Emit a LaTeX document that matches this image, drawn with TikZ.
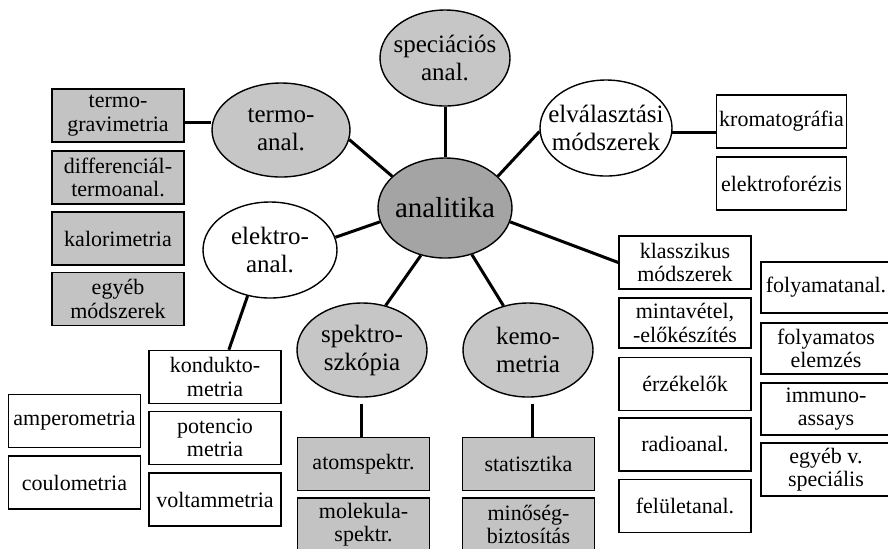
\documentclass[tikz,border=0pt]{standalone}
\usepackage{fontspec}
\setmainfont{Liberation Serif}
\usetikzlibrary{shapes.geometric}
\definecolor{gdark}{HTML}{A4A4A4}
\definecolor{glight}{HTML}{C6C6C6}
\definecolor{gbox}{HTML}{C3C3C3}
\tikzset{
  ell/.style={ellipse, draw=black, line width=0.7pt, inner sep=0pt},
  ellt/.style={align=center, font=\fontsize{12.5}{14}\selectfont},
  bx/.style={rectangle, draw=black, line width=0.75pt, inner sep=0pt, align=center,
    minimum width=66pt, minimum height=26.5pt, font=\fontsize{11}{11.8}\selectfont},
  gbx/.style={bx, fill=gbox},
  wide/.style={minimum width=65pt},
  conn/.style={line width=1.5pt}
}
\begin{document}
\begin{tikzpicture}[x=0.5pt, y=-0.5pt]
\clip (0,0) rectangle (888,548);
\fill[white] (0,0) rectangle (888,548);
% ellipses
\node[ell, fill=gdark, minimum width=67pt, minimum height=50pt] (ana) at (445,208) {};
\node[font=\fontsize{14.5}{16}\selectfont] at (ana) {analitika};
\node[ell, fill=glight, minimum width=65pt, minimum height=48pt] (spec) at (445,58) {};
\node[ellt] at (spec) {speciációs\\anal.};
\node[ell, fill=glight, minimum width=69pt, minimum height=47pt] (termo) at (281,130) {};
\node[ellt] at (termo) {termo-\\anal.};
\node[ell, fill=white, minimum width=66pt, minimum height=48pt] (elv) at (606,128) {};
\node[ellt] at (elv) {elválasztási\\módszerek};
\node[ell, fill=white, minimum width=67pt, minimum height=48pt] (elek) at (270,250) {};
\node[ellt] at (elek) {elektro-\\anal.};
\node[ell, fill=glight, minimum width=65pt, minimum height=47pt] (spek) at (362,350) {};
\node[ellt] at (spek) {spektro-\\szkópia};
\node[ell, fill=glight, minimum width=65pt, minimum height=47pt] (kemo) at (528,350) {};
\node[ellt] at (kemo) {kemo-\\metria};
% left gray boxes
\node[gbx] (tg) at (118,115.5) {termo-\\gravimetria};
\node[gbx] (dta) at (118,177.5) {differenciál-\\termoanal.};
\node[gbx] (kal) at (118,238.5) {kalorimetria};
\node[gbx] (egy) at (118,299) {egyéb\\módszerek};
% right top boxes
\node[bx, wide] (krom) at (781.5,121.5) {kromatográfia};
\node[bx, wide] (efor) at (781.5,183.5) {elektroforézis};
% right middle column
\node[bx] (klass) at (685,262.5) {klasszikus\\módszerek};
\node[bx, minimum height=25pt] (minta) at (685,323) {mintavétel,\\-előkészítés};
\node[bx] (erz) at (685,384) {érzékelők};
\node[bx] (radio) at (685,444.5) {radioanal.};
\node[bx] (felul) at (685,506) {felületanal.};
% far right column
\node[bx, minimum width=65pt, minimum height=25.5pt] (folyanal) at (826,287.5) {folyamatanal.};
\node[bx, minimum width=65pt, minimum height=25.5pt] (folyelem) at (826,348.5) {folyamatos\\elemzés};
\node[bx, minimum width=65pt, minimum height=26pt] (immuno) at (826,409) {immuno-\\assays};
\node[bx, minimum width=65pt, minimum height=26.5pt] (egyebv) at (826,469.5) {egyéb v.\\speciális};
% bottom left
\node[bx] (kond) at (215,377) {kondukto-\\metria};
\node[bx] (pot) at (215,438) {potencio\\metria};
\node[bx] (volt) at (215,499.5) {voltammetria};
\node[bx] (amp) at (74.5,421) {amperometria};
\node[bx] (coul) at (74.5,482.5) {coulometria};
% bottom middle
\node[gbx] (atom) at (363.5,464) {atomspektr.};
\node[gbx] (mol) at (363.5,524.5) {molekula-\\spektr.};
\node[gbx] (stat) at (528.5,464) {statisztika};
\node[gbx] (minos) at (528.5,524.5) {minőség-\\biztosítás};
% connectors
\draw[conn] (ana.north) -- (spec.south);
\draw[conn] (ana.149) -- (termo.-8);
\draw[conn] (ana.31) -- (elv.183);
\draw[conn] (ana.192) -- (elek.11);
\draw[conn] (ana.-12) -- (klass.west);
\draw[conn] (ana.243) -- (spek.62);
\draw[conn] (ana.-60) -- (kemo.119);
\draw[conn] (tg.-6) -- (tg.-6 -| termo.west);
\draw[conn] (elv.-4) -- (elv.-4 -| krom.west);
\draw[conn] (elek.244) -- (kond.63);
\draw[conn, shorten <=3pt] (spek.south -| atom.north) ++(-2,0) coordinate (sa) -- (sa |- atom.north);
\draw[conn, shorten <=3pt] (kemo.south) ++(4,0) coordinate (ks) -- (ks |- stat.north);
\end{tikzpicture}
\end{document}
